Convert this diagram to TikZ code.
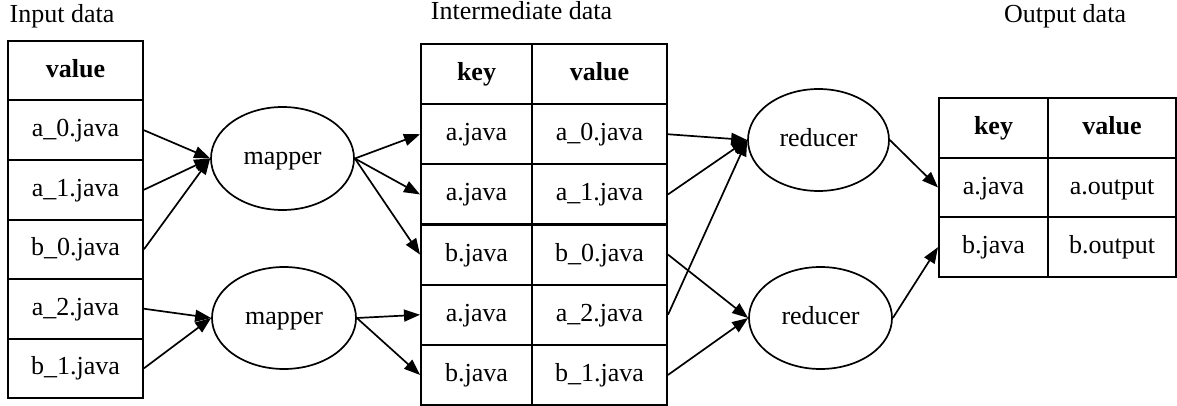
\documentclass[tikz,border=0pt]{standalone}
\usepackage{fontspec}
\setmainfont{Liberation Serif}
\usetikzlibrary{arrows.meta,shapes.geometric}
\begin{document}
\begin{tikzpicture}[x=1pt,y=-1pt,
  font=\fontsize{26}{30}\selectfont,
  cell/.style={draw,line width=2pt,inner sep=0pt,text height=18pt,text depth=5pt,minimum height=#1},
  cell/.default=59.5pt,
  oval/.style={draw,line width=1.7pt,ellipse,inner sep=0pt,text height=18pt,text depth=5pt},
  conn/.style={line width=1.7pt,-{Triangle[length=16pt,width=12pt]}},
  title/.style={anchor=base,inner sep=0pt}]
\useasboundingbox (0,0) rectangle (1177,406);

% titles
\node[title] (tin) at (62,23) {Input data};
\node[title] (tmid) at (521.5,20) {Intermediate data};
\node[title] (tout) at (1065,23) {Output data};

% input table
\begin{scope}[every node/.append style={cell,minimum width=135pt}]
\node (i0) at (75.5,70.75) {\textbf{value}};
\node (i1) at (75.5,130.25) {a\_0.java};
\node (i2) at (75.5,189.75) {a\_1.java};
\node (i3) at (75.5,249.25) {b\_0.java};
\node (i4) at (75.5,308.75) {a\_2.java};
\node (i5) at (75.5,368.25) {b\_1.java};
\end{scope}

% intermediate table
\begin{scope}[every node/.append style={cell=60.17pt,minimum width=111pt}]
\node (k0) at (476.5,74.08) {\textbf{key}};
\node (k1) at (476.5,134.25) {a.java};
\node (k2) at (476.5,194.42) {a.java};
\node (k3) at (476.5,254.58) {b.java};
\node (k4) at (476.5,314.75) {a.java};
\node (k5) at (476.5,374.92) {b.java};
\end{scope}
\begin{scope}[every node/.append style={cell=60.17pt,minimum width=135pt}]
\node (v0) at (599.5,74.08) {\textbf{value}};
\node (v1) at (599.5,134.25) {a\_0.java};
\node (v2) at (599.5,194.42) {a\_1.java};
\node (v3) at (599.5,254.58) {b\_0.java};
\node (v4) at (599.5,314.75) {a\_2.java};
\node (v5) at (599.5,374.92) {b\_1.java};
\end{scope}

% output table
\begin{scope}[every node/.append style={cell=59.67pt,minimum width=109pt}]
\node (ok0) at (993.5,127.83) {\textbf{key}};
\node (ok1) at (993.5,187.5) {a.java};
\node (ok2) at (993.5,247.17) {b.java};
\end{scope}
\begin{scope}[every node/.append style={cell=59.67pt,minimum width=128pt}]
\node (ov0) at (1112,127.83) {\textbf{value}};
\node (ov1) at (1112,187.5) {a.output};
\node (ov2) at (1112,247.17) {b.output};
\end{scope}

% ovals
\node[oval,minimum width=143pt,minimum height=103pt] (m1) at (282.5,158.5) {mapper};
\node[oval,minimum width=144pt,minimum height=102pt] (m2) at (284,318) {mapper};
\node[oval,minimum width=141pt,minimum height=102pt] (r1) at (818.5,140) {reducer};
\node[oval,minimum width=143pt,minimum height=102pt] (r2) at (820.5,318) {reducer};

% connectors
\draw[conn] (i1.east) -- (m1.west);
\draw[conn] (i2.east) -- (m1.west);
\draw[conn] (i3.east) -- (m1.west);
\draw[conn] (i4.east) -- (m2.west);
\draw[conn] (i5.east) -- (m2.west);

\draw[conn] (m1.east) -- (k1.west);
\draw[conn] (m1.east) -- (k2.west);
\draw[conn] (m1.east) -- (k3.west);
\draw[conn] (m2.east) -- (k4.west);
\draw[conn] (m2.east) -- (k5.west);

\draw[conn] (v1.east) -- (r1.west);
\draw[conn] (v2.east) -- (r1.west);
\draw[conn] (v4.east) -- (r1.west);
\draw[conn] (v3.east) -- (r2.west);
\draw[conn] (v5.east) -- (r2.west);

\draw[conn] (r1.east) -- (ok1.west);
\draw[conn] (r2.east) -- (ok2.west);
\end{tikzpicture}
\end{document}
